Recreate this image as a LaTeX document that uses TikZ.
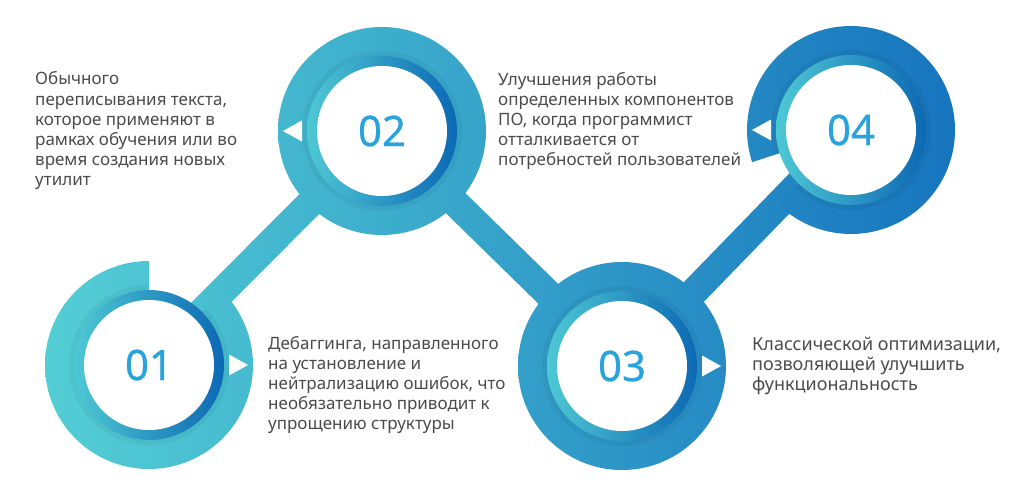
\documentclass[tikz,border=0pt]{standalone}
\usepackage{fontspec}
\setmainfont{Noto Sans}
\usetikzlibrary{calc}
\definecolor{flowA}{RGB}{84,207,213}
\definecolor{flowB}{RGB}{22,116,190}
\definecolor{ringL}{RGB}{78,200,212}
\definecolor{ringR}{RGB}{12,104,180}
\definecolor{numblue}{RGB}{40,163,222}
\definecolor{notegray}{RGB}{75,75,75}
\tikzset{
  note/.style={anchor=base west, align=left, inner sep=0pt, text=notegray,
    font=\fontsize{17}{20}\selectfont},
  num/.style={text=numblue, font=\fontsize{42}{42}\selectfont\addfontfeature{FakeBold=0.6}},
  pointer/.style={fill=white},
  shadowring/.style={fill=black, opacity=.045},
}

\begin{document}
\begin{tikzpicture}[x=1pt,y=1pt]
\newcommand\Ro{104}
\newcommand\Rs{80}
\newcommand\Rg{75}
\newcommand\Rw{65}
\newcommand\W{14pt}

\useasboundingbox (0,0) rectangle (1024,499);
\fill[white] (0,0) rectangle (1024,499);

\coordinate (c1) at (149,134);
\coordinate (c2) at (382,368);
\coordinate (c3) at (622,133);
\coordinate (c4) at (851,369);

% bands between the circles
\shade[left color=flowB!12!flowA, right color=flowB!37!flowA]
  ($(c1)!\W!90:(c2)$) -- ($(c2)!\W!-90:(c1)$)
  -- ($(c2)!\W!90:(c1)$) -- ($(c1)!\W!-90:(c2)$) -- cycle;
\shade[left color=flowB!37!flowA, right color=flowB!63!flowA]
  ($(c2)!\W!90:(c3)$) -- ($(c3)!\W!-90:(c2)$)
  -- ($(c3)!\W!90:(c2)$) -- ($(c2)!\W!-90:(c3)$) -- cycle;
\shade[left color=flowB!63!flowA, right color=flowB!88!flowA]
  ($(c3)!\W!90:(c4)$) -- ($(c4)!\W!-90:(c3)$)
  -- ($(c4)!\W!90:(c3)$) -- ($(c3)!\W!-90:(c4)$) -- cycle;

% outer rings
\shade[left color=flowB!1!flowA, right color=flowB!23!flowA]
  ($(c1)+(90:\Ro)$) arc[start angle=90, end angle=405, radius=\Ro]
  -- ($(c1)+(45:60)$) arc[start angle=405, end angle=90, radius=60] -- cycle;
\shade[left color=flowB!26!flowA, right color=flowB!48!flowA]
  (c2) circle[radius=\Ro];
\shade[left color=flowB!52!flowA, right color=flowB!75!flowA]
  (c3) circle[radius=\Ro];
\shade[left color=flowB!77!flowA, right color=flowB]
  ($(c4)+(-134:\Ro)$) arc[start angle=-134, end angle=198, radius=\Ro]
  -- ($(c4)+(198:60)$) arc[start angle=198, end angle=-134, radius=60] -- cycle;

% shadow round the inner rings
\fill[shadowring]
  ($(c1)+(90:\Rs)$) arc[start angle=90, end angle=405, radius=\Rs]
  -- ($(c1)+(45:60)$) arc[start angle=405, end angle=90, radius=60] -- cycle;
\fill[shadowring] (c2) circle[radius=\Rs];
\fill[shadowring] (c3) circle[radius=\Rs];
\fill[shadowring]
  ($(c4)+(-134:\Rs)$) arc[start angle=-134, end angle=198, radius=\Rs]
  -- ($(c4)+(198:60)$) arc[start angle=198, end angle=-134, radius=60] -- cycle;

% inner rings and discs
\shade[left color=ringL, right color=ringR] (c1) circle[radius=\Rg];
\shade[left color=ringL, right color=ringR] (c2) circle[radius=\Rg];
\shade[left color=ringL, right color=ringR] (c3) circle[radius=\Rg];
\shade[left color=ringL, right color=ringR] (c4) circle[radius=\Rg];
\fill[white] (c1) circle[radius=\Rw];
\fill[white] (c2) circle[radius=\Rw];
\fill[white] (c3) circle[radius=\Rw];
\fill[white] (c4) circle[radius=\Rw];

% pointers
\fill[pointer] ($(c1)+(80,10.5)$) -- ($(c1)+(99,0)$) -- ($(c1)+(80,-10.5)$) -- cycle;
\fill[pointer] ($(c2)+(-80,10.5)$) -- ($(c2)+(-99,0)$) -- ($(c2)+(-80,-10.5)$) -- cycle;
\fill[pointer] ($(c3)+(80,10.5)$) -- ($(c3)+(99,0)$) -- ($(c3)+(80,-10.5)$) -- cycle;
\fill[pointer] ($(c4)+(-80,10.5)$) -- ($(c4)+(-99,0)$) -- ($(c4)+(-80,-10.5)$) -- cycle;

\node[num] (n1) at (c1) {01};
\node[num] (n2) at (c2) {02};
\node[num] (n3) at (c3) {03};
\node[num] (n4) at (c4) {04};

% base = baseline of the last line
\node[note] (note1) at (35,314) {Обычного\\переписывания текста,\\которое применяют в\\рамках обучения или во\\время создания новых\\утилит};
\node[note] (note2) at (498,334) {Улучшения работы\\определенных компонентов\\ПО, когда программист\\отталкивается от\\потребностей пользователей};
\node[note] (note3) at (268,70) {Дебаггинга, направленного\\на установление и\\нейтрализацию ошибок, что\\необязательно приводит к\\упрощению структуры};
\node[note, font=\fontsize{18}{20}\selectfont] (note4) at (752,109) {Классической оптимизации,\\позволяющей улучшить\\функциональность};
\end{tikzpicture}
\end{document}
